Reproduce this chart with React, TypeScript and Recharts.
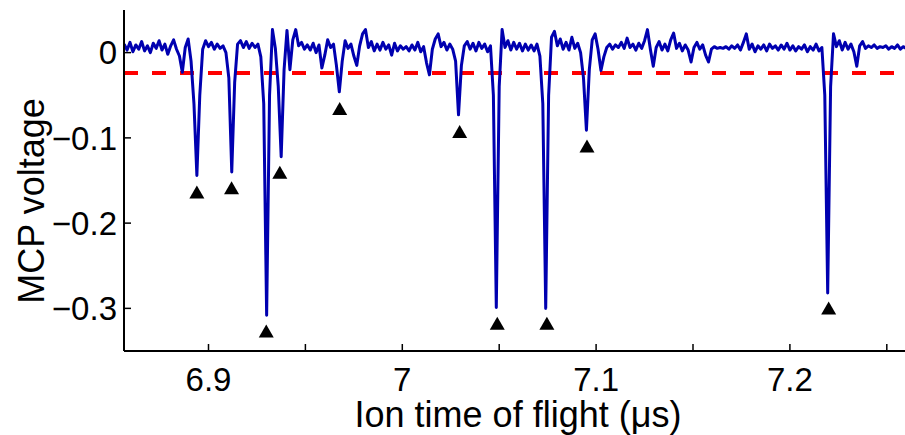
import { ComposedChart, Line, Scatter, XAxis, YAxis, ReferenceLine } from "recharts";

// scope trace, sampled every 1.5 ns starting at 6.8565 µs
const sampleStart = 6.8565;
const samplePeriod = 0.0015;

const mcpVoltage = [
  0.010, 0.003, 0.012, 0.001, 0.009, 0.004, 0.013, 0.002, 0.008, 0.000,
  0.011, 0.005, 0.014, 0.003, 0.010, -0.002, 0.008, 0.015, 0.004, -0.004,
  -0.023, 0.006, 0.016, -0.010, -0.060, -0.144, -0.050, 0.004, 0.014, 0.007,
  0.012, 0.004, 0.010, 0.005, 0.008, 0.000, -0.030, -0.140, -0.035, 0.010,
  0.014, 0.006, 0.013, 0.005, 0.011, 0.006, 0.010, -0.005, -0.060, -0.308,
  -0.050, 0.027, 0.005, -0.040, -0.122, -0.020, 0.026, -0.020, 0.015, 0.027,
  0.008, 0.012, 0.004, 0.009, 0.003, 0.011, 0.000, 0.009, -0.018, -0.003,
  0.015, 0.006, 0.010, -0.015, -0.046, -0.010, 0.014, 0.005, 0.010, -0.004,
  -0.015, 0.008, 0.022, 0.027, 0.006, 0.013, 0.002, 0.010, 0.003, 0.012,
  0.004, 0.009, -0.003, 0.011, 0.002, 0.008, 0.004, 0.007, 0.002, 0.009,
  0.003, 0.012, 0.001, 0.007, -0.012, -0.026, 0.004, 0.016, 0.022, 0.007,
  0.012, 0.003, 0.010, 0.004, -0.010, -0.073, -0.015, 0.008, 0.013, 0.004,
  0.011, 0.002, 0.012, 0.005, 0.010, 0.001, 0.008, -0.050, -0.299, -0.040,
  0.027, 0.006, 0.014, 0.003, 0.012, 0.004, 0.011, 0.002, 0.010, 0.003,
  0.009, 0.002, 0.010, -0.004, -0.060, -0.300, -0.050, 0.018, 0.025, 0.008,
  0.016, 0.004, 0.012, 0.003, 0.018, 0.005, 0.011, 0.000, -0.030, -0.091,
  -0.020, 0.015, 0.022, 0.004, -0.021, -0.005, 0.006, 0.010, 0.004, 0.009,
  0.006, 0.012, 0.005, 0.017, 0.006, 0.010, 0.003, 0.011, 0.005, 0.014,
  0.027, 0.004, -0.016, 0.006, 0.013, 0.003, 0.010, 0.002, 0.015, 0.023,
  0.005, 0.011, 0.002, 0.009, 0.003, -0.011, 0.006, 0.012, 0.004, 0.009,
  -0.003, -0.011, 0.004, 0.007, 0.005, 0.006, 0.005, 0.007, 0.004, 0.008,
  0.005, 0.009, 0.003, 0.012, 0.022, 0.004, 0.010, 0.001, 0.008, 0.004,
  0.009, 0.002, 0.010, 0.005, 0.008, 0.003, 0.009, 0.004, 0.011, 0.003,
  0.008, 0.002, 0.007, 0.004, 0.009, 0.001, 0.007, 0.003, 0.010, 0.002,
  0.006, -0.050, -0.282, -0.040, 0.022, 0.007, 0.014, 0.003, 0.012, 0.004,
  0.010, 0.001, -0.016, 0.008, 0.013, 0.005, 0.008, 0.006, 0.009, 0.005,
  0.007, 0.006, 0.008, 0.004, 0.007, 0.005, 0.009, 0.004, 0.007, 0.005,
  0.006,
];

// detected ion hits (marker placed just under each pulse)
const hitTimes = [6.894, 6.9119, 6.9298, 6.9368, 6.9677, 7.0296, 7.049, 7.0746, 7.0953, 7.22];
const hitMarkers = [-0.164, -0.159, -0.327, -0.141, -0.066, -0.093, -0.318, -0.318, -0.11, -0.3];

const threshold = -0.024;

const timeTicks = [6.9, 6.95, 7, 7.05, 7.1, 7.15, 7.2, 7.25];
const voltageTicks = [-0.3, -0.2, -0.1, 0];

const trace = mcpVoltage.map((v, i) => ({ t: sampleStart + i * samplePeriod, v }));
const hits = hitTimes.map((t, i) => ({ t, v: hitMarkers[i] }));

const font = "'Liberation Sans', Arial, Helvetica, sans-serif";

function Triangle(props: any) {
  const { cx, cy } = props;
  return (
    <polygon
      points={`${cx},${cy - 7} ${cx - 7.5},${cy + 6} ${cx + 7.5},${cy + 6}`}
      fill="#000"
    />
  );
}

function timeLabel(v: number) {
  const tenths = v * 10;
  return Math.abs(tenths - Math.round(tenths)) < 1e-6 ? String(Math.round(tenths) / 10) : "";
}

function voltLabel(v: number) {
  if (v === 0) return "0";
  return (v < 0 ? "\u2212" : "") + Math.abs(v).toFixed(1);
}

export default function App() {
  return (
    <div
      style={{
        position: "absolute",
        left: 0,
        top: 0,
        width: 905,
        height: 435,
        overflow: "hidden",
        background: "#fff",
        fontFamily: font,
      }}
    >
      <ComposedChart
        width={912}
        height={435}
        margin={{ top: 10, right: 0, bottom: 0, left: 0 }}
        style={{ fontFamily: font }}
      >
        <XAxis
          xAxisId="top"
          orientation="top"
          type="number"
          dataKey="t"
          domain={[6.8564, 7.263]}
          allowDataOverflow
          ticks={timeTicks}
          tickFormatter={() => ""}
          height={0}
          tickSize={-7}
          axisLine={{ stroke: "#000", strokeWidth: 2 }}
          tickLine={{ stroke: "#000", strokeWidth: 1.5 }}
        />
        <XAxis
          type="number"
          dataKey="t"
          domain={[6.8564, 7.263]}
          allowDataOverflow
          ticks={timeTicks}
          tickFormatter={timeLabel}
          height={84}
          tickSize={-7}
          tickMargin={24}
          axisLine={{ stroke: "#000", strokeWidth: 2 }}
          tickLine={{ stroke: "#000", strokeWidth: 1.5 }}
          tick={{ fontSize: 33, fill: "#000", fontFamily: font }}
          label={{
            value: "Ion time of flight (\u03bcs)",
            position: "insideBottom",
            offset: 8,
            fontSize: 36,
            fill: "#000",
            fontFamily: font,
          }}
        />
        <YAxis
          type="number"
          dataKey="v"
          domain={[-0.35, 0.05]}
          allowDataOverflow
          ticks={voltageTicks}
          tickFormatter={voltLabel}
          width={124}
          tickSize={-7}
          tickMargin={14}
          axisLine={{ stroke: "#000", strokeWidth: 2 }}
          tickLine={{ stroke: "#000", strokeWidth: 1.5 }}
          tick={{ fontSize: 33, fill: "#000", fontFamily: font }}
          label={{
            content: () => (
              <text
                x={31}
                y={201}
                transform="rotate(-90 31 201)"
                textAnchor="middle"
                dominantBaseline="central"
                fontSize={36}
                fill="#000"
                fontFamily={font}
              >
                MCP voltage
              </text>
            ),
          }}
        />
        <ReferenceLine
          y={threshold}
          stroke="#ff0000"
          strokeWidth={4}
          strokeDasharray="14 14"
        />
        <Line
          data={trace}
          dataKey="v"
          type="linear"
          stroke="#0000b0"
          strokeWidth={3}
          strokeLinejoin="round"
          dot={false}
          activeDot={false}
          isAnimationActive={false}
        />
        <Scatter
          data={hits}
          dataKey="v"
          shape={<Triangle />}
          isAnimationActive={false}
        />
      </ComposedChart>
    </div>
  );
}
